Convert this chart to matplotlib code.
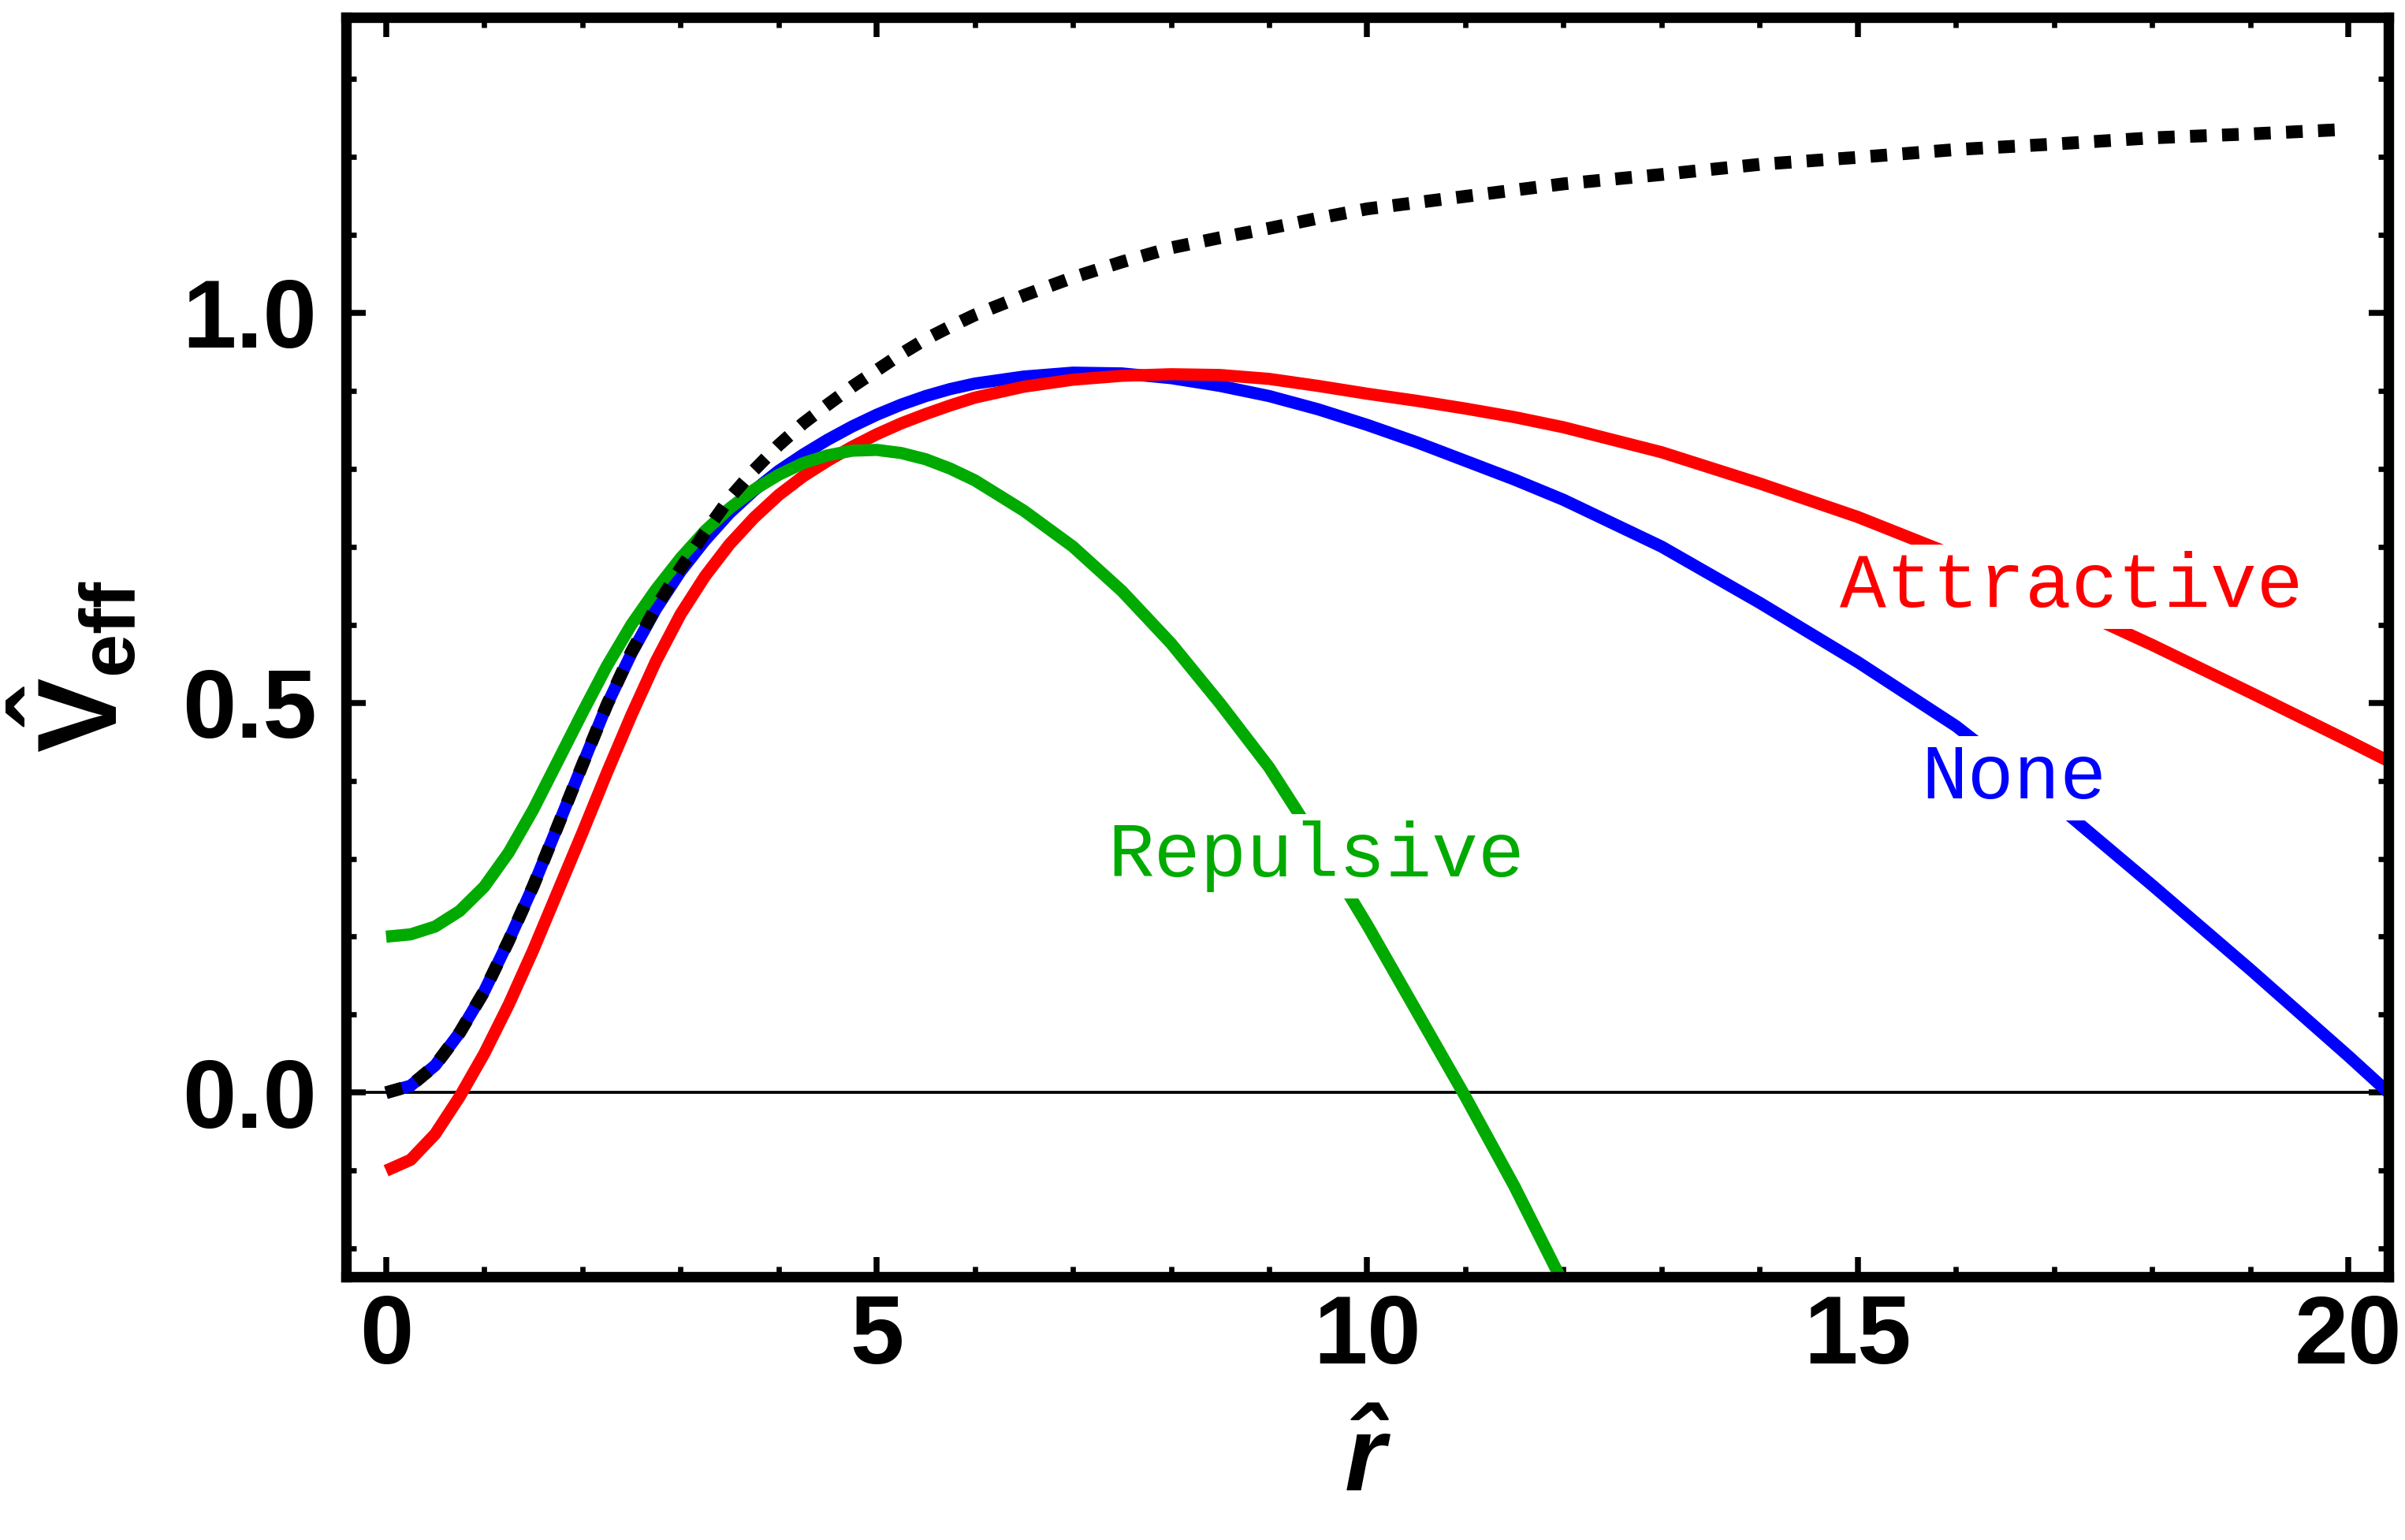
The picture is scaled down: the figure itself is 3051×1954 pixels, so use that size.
import matplotlib
matplotlib.use("Agg")
import matplotlib.pyplot as plt
from matplotlib.ticker import MultipleLocator, FixedLocator

# ---------------- data ----------------
r_none = [0, 0.25, 0.5, 0.75, 1.0, 1.25, 1.5, 1.75, 2.0, 2.25, 2.5, 2.75,
          3.0, 3.25, 3.5, 3.75, 4.0, 4.25, 4.5, 4.75, 5.0, 5.25, 5.5, 5.75,
          6.0, 6.5, 7.0, 7.5, 8.0, 8.5, 9.0, 9.5, 10, 10.5, 11, 11.5, 12,
          13, 14, 15, 16, 17, 18, 19, 20, 20.41]
v_none = [0.0, 0.009, 0.035, 0.077, 0.13, 0.195, 0.265, 0.342, 0.42, 0.497,
          0.563, 0.62, 0.668, 0.708, 0.743, 0.772, 0.797, 0.818, 0.837,
          0.854, 0.869, 0.882, 0.893, 0.902, 0.909, 0.918, 0.923, 0.922,
          0.916, 0.906, 0.893, 0.876, 0.856, 0.834, 0.810, 0.786, 0.760,
          0.700, 0.628, 0.552, 0.470, 0.372, 0.266, 0.158, 0.047, 0.0]

r_att = [0, 0.25, 0.5, 0.75, 1.0, 1.25, 1.5, 1.75, 2.0, 2.25, 2.5, 2.75,
         3.0, 3.25, 3.5, 3.75, 4.0, 4.25, 4.5, 4.75, 5.0, 5.25, 5.5, 5.75,
         6.0, 6.5, 7.0, 7.5, 8.0, 8.5, 9.0, 9.5, 10, 10.5, 11, 11.5, 12,
         13, 14, 15, 16, 17, 18, 19, 20, 20.41]
v_att = [-0.100, -0.086, -0.053, -0.005, 0.050, 0.113, 0.183, 0.258, 0.333,
         0.41, 0.484, 0.553, 0.613, 0.662, 0.703, 0.737, 0.766, 0.79, 0.81,
         0.828, 0.844, 0.858, 0.870, 0.881, 0.891, 0.905, 0.914, 0.919,
         0.921, 0.920, 0.915, 0.906, 0.896, 0.887, 0.877, 0.866, 0.853,
         0.821, 0.781, 0.738, 0.688, 0.632, 0.574, 0.513, 0.451, 0.425]

r_rep = [0, 0.25, 0.5, 0.75, 1.0, 1.25, 1.5, 1.75, 2.0, 2.25, 2.5, 2.75,
         3.0, 3.25, 3.5, 3.75, 4.0, 4.25, 4.5, 4.75, 5.0, 5.25, 5.5, 5.75,
         6.0, 6.5, 7.0, 7.5, 8.0, 8.5, 9.0, 9.5, 10.0, 10.5, 11.0, 11.5,
         12.0]
v_rep = [0.200, 0.203, 0.213, 0.233, 0.264, 0.308, 0.363, 0.425, 0.487,
         0.547, 0.600, 0.645, 0.685, 0.72, 0.749, 0.773, 0.792, 0.807,
         0.817, 0.823, 0.824, 0.820, 0.812, 0.800, 0.785, 0.746, 0.700,
         0.643, 0.576, 0.499, 0.417, 0.319, 0.215, 0.105, -0.005, -0.12,
         -0.245]

r_free = [0, 0.25, 0.5, 0.75, 1.0, 1.25, 1.5, 1.75, 2.0, 2.25, 2.5, 2.75,
          3.0, 3.25, 3.5, 3.75, 4.0, 4.25, 4.5, 4.75, 5.0, 5.25, 5.5, 5.75,
          6.0, 6.5, 7.0, 7.5, 8.0, 8.5, 9.0, 9.5, 10, 11, 12, 13, 14, 15,
          16, 17, 18, 19, 20]
v_free = [0.0, 0.009, 0.035, 0.077, 0.13, 0.195, 0.265, 0.342, 0.42, 0.497,
          0.565, 0.622, 0.672, 0.718, 0.762, 0.798, 0.830, 0.858, 0.882,
          0.905, 0.926, 0.947, 0.966, 0.982, 0.997, 1.022, 1.045, 1.065,
          1.083, 1.096, 1.108, 1.121, 1.133, 1.149, 1.165, 1.177, 1.19,
          1.199, 1.209, 1.216, 1.224, 1.229, 1.235]

curve_labels = ["Attractive", "None", "Repulsive"]
label_x = [17.18, 16.59, 9.48]
label_y = [0.623, 0.377, 0.277]

x_major = [0, 5, 10, 15, 20]
y_major = [0.0, 0.5, 1.0]
x_ticklabels = ["0", "5", "10", "15", "20"]
y_ticklabels = ["0.0", "0.5", "1.0"]

# ---------------- style ----------------
plt.rcParams["mathtext.fontset"] = "custom"
plt.rcParams["mathtext.rm"] = "Liberation Sans"
plt.rcParams["mathtext.bf"] = "Liberation Sans:bold"
plt.rcParams["mathtext.it"] = "Liberation Sans:italic"
plt.rcParams["mathtext.bfit"] = "Liberation Sans:italic:bold"

RED = "#FF0000"
BLUE = "#0000FF"
GREEN = "#00AA00"

fig = plt.figure(figsize=(3051 / 300, 1954 / 300), dpi=300)
ax = fig.add_axes([0.1439, 0.1709, 0.8492, 0.8176])

ax.axhline(0, color="black", lw=0.9, zorder=1)

lw = 3.7
ax.plot(r_none, v_none, color=BLUE, lw=lw, solid_capstyle="butt",
        solid_joinstyle="round", zorder=3)
ax.plot(r_att, v_att, color=RED, lw=lw, solid_capstyle="butt",
        solid_joinstyle="round", zorder=4)
ax.plot(r_rep, v_rep, color=GREEN, lw=lw, solid_capstyle="butt",
        solid_joinstyle="round", zorder=5)
ax.plot(r_free, v_free, color="black", lw=3.9, linestyle=(0, (1.3, 1.2)),
        dash_capstyle="butt", zorder=6)

colors = [RED, BLUE, GREEN]
for txt, xx, yy, c in zip(curve_labels, label_x, label_y, colors):
    ax.text(xx, yy, txt, color=c, family="Liberation Mono", fontsize=23.5,
            ha="center", va="baseline", zorder=8,
            bbox=dict(boxstyle="square,pad=0.08", fc="white", ec="none"))

ax.set_xlim(-0.408, 20.408)
ax.set_ylim(-0.236, 1.378)

ax.xaxis.set_major_locator(FixedLocator(x_major))
ax.yaxis.set_major_locator(FixedLocator(y_major))
ax.set_xticklabels(x_ticklabels)
ax.set_yticklabels(y_ticklabels)
ax.xaxis.set_minor_locator(MultipleLocator(1))
ax.yaxis.set_minor_locator(MultipleLocator(0.1))

for s in ax.spines.values():
    s.set_linewidth(3.2)
    s.set_zorder(10)

ax.tick_params(which="both", direction="in", top=True, right=True,
               bottom=True, left=True, labelsize=29.5)
ax.tick_params(axis="x", which="both", pad=5)
ax.tick_params(axis="y", which="both", pad=9)
ax.tick_params(which="major", length=6, width=1.8)
ax.tick_params(which="minor", length=3.2, width=1.6)
for lab in ax.get_xticklabels() + ax.get_yticklabels():
    lab.set_fontfamily("Liberation Sans")
    lab.set_fontweight("bold")

ax.set_xlabel(r"$\mathbfit{\hat{r}}$", fontsize=32)
ax.xaxis.label.set_va("baseline")
ax.xaxis.set_label_coords(0.5, -0.170)

ax.set_ylabel(r"$\mathbf{\hat{V}}_{\mathbf{eff}}$", fontsize=34)
ax.yaxis.label.set_va("baseline")
ax.yaxis.set_label_coords(-0.112, 0.485)

fig.savefig("out.png", dpi=300, facecolor="white")
